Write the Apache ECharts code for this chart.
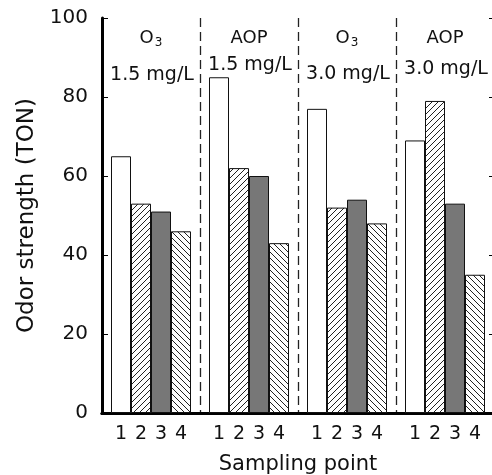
<!DOCTYPE html>
<html>
<head>
<meta charset="utf-8">
<script src="https://cdn.jsdelivr.net/npm/echarts@6/dist/echarts.min.js"></script>
<style>
html,body{margin:0;padding:0;background:#fff;}
#chart{width:492px;height:475px;}
</style>
</head>
<body>
<div id="chart"></div>
<script>
// ---- data ----
var groups = ['O3 1.5 mg/L', 'AOP 1.5 mg/L', 'O3 3.0 mg/L', 'AOP 3.0 mg/L'];
var groupMethods = ['O3', 'AOP', 'O3', 'AOP'];
var groupDoses = ['1.5 mg/L', '1.5 mg/L', '3.0 mg/L', '3.0 mg/L'];
var samplingPoints = ['1', '2', '3', '4'];
var point1 = [65, 85, 77, 69];
var point2 = [53, 62, 52, 79];
var point3 = [51, 60, 54, 53];
var point4 = [46, 43, 48, 35];
var yTicks = [0, 20, 40, 60, 80, 100];

var FONT = 'DejaVu Sans';

function hatch(dir) {
  var s = 6;
  var c = document.createElement('canvas');
  c.width = s; c.height = s;
  var ctx = c.getContext('2d');
  ctx.fillStyle = '#fff';
  ctx.fillRect(0, 0, s, s);
  ctx.strokeStyle = '#222';
  ctx.lineWidth = 1;
  ctx.beginPath();
  if (dir === '/') {
    ctx.moveTo(-1, s + 1); ctx.lineTo(s + 1, -1);
    ctx.moveTo(-1, 1); ctx.lineTo(1, -1);
    ctx.moveTo(s - 1, s + 1); ctx.lineTo(s + 1, s - 1);
  } else {
    ctx.moveTo(-1, -1); ctx.lineTo(s + 1, s + 1);
    ctx.moveTo(s - 1, -1); ctx.lineTo(s + 1, 1);
    ctx.moveTo(-1, s - 1); ctx.lineTo(1, s + 1);
  }
  ctx.stroke();
  return c;
}

var fills = ['#ffffff', {image: hatch('/'), repeat: 'repeat'}, '#777777', {image: hatch('\\'), repeat: 'repeat'}];
var values = [point1, point2, point3, point4];

var chart = echarts.init(document.getElementById('chart'), null, {renderer: 'canvas'});

var series = samplingPoints.map(function (p, i) {
  return {
    name: p,
    type: 'bar',
    barWidth: 20,
    barGap: '0%',
    data: values[i],
    itemStyle: {color: fills[i], borderColor: '#111', borderWidth: 1},
    label: {
      show: true, position: 'bottom', distance: 12,
      formatter: '{a}', color: '#111', fontSize: 19, fontFamily: FONT
    },
    emphasis: {disabled: true},
    animation: false
  };
});

var option = {
  backgroundColor: '#ffffff',
  animation: false,
  grid: {left: 102, top: 18, width: 392, height: 395, containLabel: false, outerBoundsMode: 'none'},
  xAxis: [{
    type: 'category',
    data: groups,
    boundaryGap: true,
    axisLine: {show: true, lineStyle: {color: '#000', width: 3}},
    axisTick: {show: false},
    axisLabel: {show: false},
    splitLine: {show: true, interval: 0, lineStyle: {color: '#222', width: 1.3, type: [9, 5]}},
    name: 'Sampling point',
    nameLocation: 'middle',
    nameGap: 41,
    nameTextStyle: {fontFamily: FONT, fontSize: 21, color: '#111'}
  }, {
    type: 'category',
    data: groups,
    position: 'top',
    axisLine: {show: true, lineStyle: {color: '#000', width: 3}},
    axisTick: {show: false},
    axisLabel: {show: false},
    splitLine: {show: false}
  }],
  yAxis: [{
    type: 'value',
    min: 0, max: 100, interval: 20,
    axisLine: {show: true, lineStyle: {color: '#000', width: 3}},
    axisTick: {show: true, inside: true, length: 6, lineStyle: {color: '#000', width: 1}},
    axisLabel: {margin: 14, fontFamily: FONT, fontSize: 20, color: '#111'},
    splitLine: {show: false},
    name: 'Odor strength (TON)',
    nameLocation: 'middle',
    nameGap: 55,
    nameRotate: 90,
    nameTextStyle: {fontFamily: FONT, fontSize: 23, color: '#111'}
  }, {
    type: 'value',
    position: 'right',
    min: 0, max: 100, interval: 20,
    axisLine: {show: true, lineStyle: {color: '#000', width: 2}},
    axisTick: {show: true, inside: true, length: 5, lineStyle: {color: '#000', width: 1}},
    axisLabel: {show: false},
    splitLine: {show: false}
  }],
  series: series
};
chart.setOption(option);

// group header annotations anchored to category positions
var doseY = [75, 65, 74, 69];
var graphics = [];
groups.forEach(function (g, i) {
  var cx = chart.convertToPixel({xAxisIndex: 0}, g);
  var m = groupMethods[i];
  var rich = m === 'O3' ? '{m|O}{s|3}' : '{m|' + m + '}';
  graphics.push({
    type: 'text',
    x: cx, y: 38,
    style: {
      text: rich,
      x: 0, y: 0,
      align: 'center', verticalAlign: 'middle',
      rich: {
        m: {fontFamily: FONT, fontSize: 18, fill: '#111'},
        s: {fontFamily: FONT, fontSize: 12, fill: '#111', padding: [10, 0, 0, 1]}
      }
    },
    silent: true
  });
  graphics.push({
    type: 'text',
    x: cx + 1, y: doseY[i],
    style: {
      text: groupDoses[i], align: 'center', verticalAlign: 'middle',
      fontFamily: FONT, fontSize: 19, fill: '#111'
    },
    silent: true
  });
});
chart.setOption({graphic: graphics});
</script>
</body>
</html>
